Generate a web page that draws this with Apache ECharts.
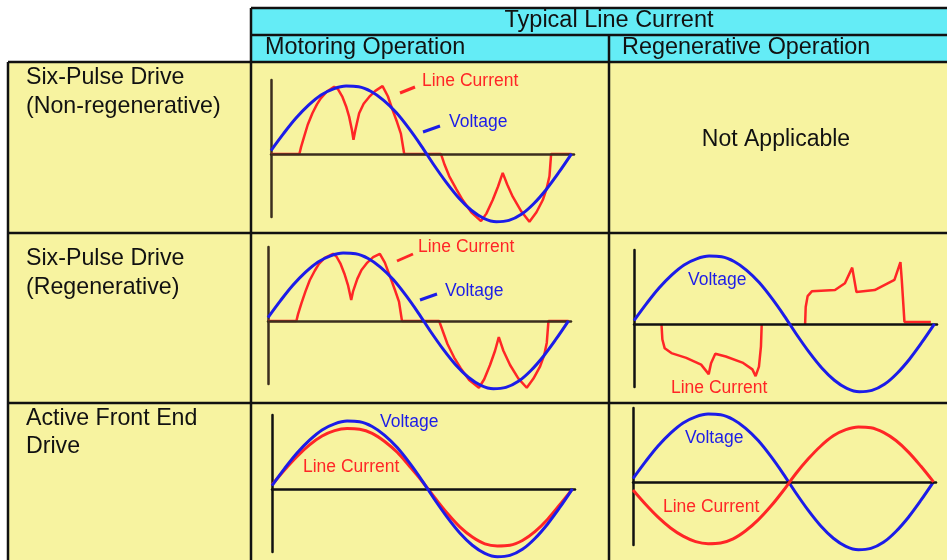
<!DOCTYPE html>
<html><head><meta charset="utf-8">
<script src="https://cdn.jsdelivr.net/npm/echarts@6/dist/echarts.min.js"></script>
<style>html,body{margin:0;padding:0;background:#fff}#c{width:947px;height:560px}</style>
</head><body><div id="c"></div>
<script>
// ---- data (phase angle in degrees, amplitude in % of peak voltage) ----
const phase = [0,15,30,45,60,75,90,105,120,135,150,165,180,195,210,225,240,255,270,285,300,315,330,345,360];
const voltage = [5,30,53,72,87,96,100,99,92,79,61,38,12,-16,-42,-65,-83,-95,-100,-98,-89,-73,-52,-27,0];
const afeMotoringCurrent = [6,28,48,65,78,86,89,88,82,70,54,33,11,-13,-36,-56,-71,-81,-84,-83,-76,-63,-45,-23,0];
const afeRegenCurrent = [-12,-33,-52,-68,-80,-88,-91,-90,-84,-72,-56,-36,-13,12,34,53,68,77,81,80,73,61,44,23,0];
// six-pulse, non-regenerative drive, motoring: [deg, %]
const sixPulseNonRegenCurrent = [[0,0],[34,0],[36,10],[39.6,25],[44,43],[49.6,60],[55,73],[59.6,82],[67,92],[75.6,99],[80,96],[85.6,84],[90,70],[93.6,55],[97,35],[98.8,21],[101,35],[105.6,60],[111,74],[117.6,84],[125,93],[133.6,100],[140,85],[145.6,65],[151,47],[155.6,30],[159.6,0],[203.6,0],[208,-16],[213.6,-33],[222,-52],[229.6,-68],[240,-86],[251.6,-99],[258,-88],[265.6,-68],[272,-48],[277.6,-28],[283,-45],[289.6,-63],[300,-85],[309.6,-100],[318,-86],[325.6,-68],[330,-52],[333.6,-33],[335.6,0],[360,0]];
// six-pulse, regenerative drive, motoring
const sixPulseRegenMotorCurrent = [[0,0],[34,0],[36,10],[40,26],[45,44],[50,60],[56,74],[61,84],[68,93],[77.9,99],[82,95],[87,84],[92,68],[96,52],[99.7,31],[102,44],[107,62],[112,75],[119,86],[126,94],[134,99],[140,86],[146,66],[152,46],[157,28],[160.5,0],[205,0],[210,-17],[215,-34],[223,-54],[231,-70],[241,-87],[252.7,-98.5],[259,-86],[266,-65],[272,-44],[276.5,-24],[282,-44],[290,-65],[300,-85],[310,-98.5],[318,-85],[326,-67],[331,-50],[334,-32],[336,0],[360,0]];
// six-pulse, regenerative drive, regenerating (negative and positive pulses)
const sixPulseRegenNegPulse = [[32.9,0],[34,-23],[36.8,-36],[44.8,-43],[62.6,-50],[80.4,-60],[89.5,-74],[92.3,-58],[97.4,-44],[110,-48],[129.9,-57],[141.8,-67],[145.7,-77],[149.7,-63],[152.1,-33],[152.9,-4],[153,0]];
const sixPulseRegenPosPulse = [[205,0],[205.7,25],[208,41],[213,48],[240.8,50],[252.7,60],[261.4,83],[266.5,47],[288.3,50],[312,65],[319.2,91],[320.8,65],[324,3],[355.6,3]];

const rowLabels = [["Six-Pulse Drive","(Non-regenerative)"],["Six-Pulse Drive","(Regenerative)"],["Active Front End","Drive"]];
const headerTitle = "Typical Line Current";
const colHeaders = ["Motoring Operation","Regenerative Operation"];

// ---- layout ----
const FONT = "'Liberation Sans', Arial, sans-serif";
const BLUE = '#1c1ce8', RED = '#ff2626';
const panels = [
  {left:271, top:80,  axis:'#3b2e1e'},
  {left:268, top:247, axis:'#3b2e1e'},
  {left:634, top:250, axis:'#111'},
  {left:272, top:415, axis:'#111'},
  {left:633, top:408, axis:'#111'}
];
const grid = [], xAxis = [], yAxis = [];
panels.forEach((p,i)=>{
  grid.push({left:p.left, top:p.top, width:303, height:137});
  xAxis.push({type:'value', gridIndex:i, min:0, max:363, z:3,
    axisLine:{onZero:true, lineStyle:{color:p.axis, width:2.5}},
    axisTick:{show:false}, axisLabel:{show:false}, splitLine:{show:false}});
  yAxis.push({type:'value', gridIndex:i, min:-93, max:109,
    axisLine:{show:true, onZero:false, lineStyle:{color:p.axis, width:2.5}},
    axisTick:{show:false}, axisLabel:{show:false}, splitLine:{show:false}});
});
const volt = phase.map((d,k)=>[d, voltage[k]]);
function line(i, data, color, w, z){
  return {type:'line', xAxisIndex:i, yAxisIndex:i, data, showSymbol:false, symbol:'none',
    clip:false, smooth:false, lineStyle:{color, width:w}, z, silent:true, animation:false};
}
function sm(s){ s.smooth = 0.35; return s; }
const series = [
  line(0, sixPulseNonRegenCurrent, RED, 2.5, 2), sm(line(0, volt, BLUE, 3, 4)),
  line(1, sixPulseRegenMotorCurrent, RED, 2.5, 2), sm(line(1, volt, BLUE, 3, 4)),
  line(2, sixPulseRegenNegPulse, RED, 2.5, 2), line(2, sixPulseRegenPosPulse, RED, 2.5, 2), sm(line(2, volt, BLUE, 3, 4)),
  sm(line(3, phase.map((d,k)=>[d, afeMotoringCurrent[k]]), RED, 3, 2)), sm(line(3, volt, BLUE, 3, 4)),
  sm(line(4, phase.map((d,k)=>[d, afeRegenCurrent[k]]), RED, 3, 4)), sm(line(4, volt, BLUE, 3, 2))
];

const K = '#111';
function L(x1,y1,x2,y2,c,w){ return {type:'line', z:-1, shape:{x1,y1,x2,y2}, style:{stroke:c||K, lineWidth:w||2.5}}; }
function T(text,x,y,size,color,align){ return {type:'text', z:10, x, y, style:{text, font:`${size}px ${FONT}`, fill:color||K,
  textAlign:align||'left', align:align||'left', textVerticalAlign:'middle', verticalAlign:'middle'}}; }
const graphic = [
  {type:'rect', z:-2, shape:{x:8,y:62,width:939,height:498}, style:{fill:'#f7f3a0'}},
  {type:'rect', z:-2, shape:{x:251,y:8,width:696,height:54}, style:{fill:'#64ecf6'}},
  L(251,8,947,8), L(251,35,947,35), L(8,62,947,62), L(8,233,947,233), L(8,403,947,403),
  L(8,62,8,560), L(251,8,251,560), L(609,35,609,560),
  T(headerTitle,609,21,23.5,K,'center'), T(colHeaders[0],265,48,23.4), T(colHeaders[1],622,48,23.4),
  T(rowLabels[0][0],26,78,23.2), T(rowLabels[0][1],26,107,23.2),
  T(rowLabels[1][0],26,259,23.2), T(rowLabels[1][1],26,288,23.2),
  T(rowLabels[2][0],26,419,23.2), T(rowLabels[2][1],26,447,23.2),
  T('Not Applicable',776,140,23,K,'center'),
  // panel labels
  T('Line Current',422,81,17.5,RED), L(400,93,415,87,RED,3),
  T('Voltage',449,122,17.5,BLUE), L(423,132,440,126,BLUE,3),
  T('Line Current',418,247,17.5,RED), L(397,261,413,254,RED,3),
  T('Voltage',445,291,17.5,BLUE), L(420,300,437,294,BLUE,3),
  T('Voltage',688,280,17.5,BLUE), T('Line Current',671,388,17.5,RED),
  T('Voltage',380,422,17.5,BLUE), T('Line Current',303,467,17.5,RED),
  T('Voltage',685,438,17.5,BLUE), T('Line Current',663,507,17.5,RED)
];
graphic.forEach(g=>{ if(g.type==='line' && g.z===-1 && g.style.stroke!==K){ g.z = 10; } });

const chart = echarts.init(document.getElementById('c'), null, {renderer:'canvas'});
chart.setOption({animation:false, backgroundColor:'#ffffff', grid, xAxis, yAxis, series, graphic});
</script></body></html>
